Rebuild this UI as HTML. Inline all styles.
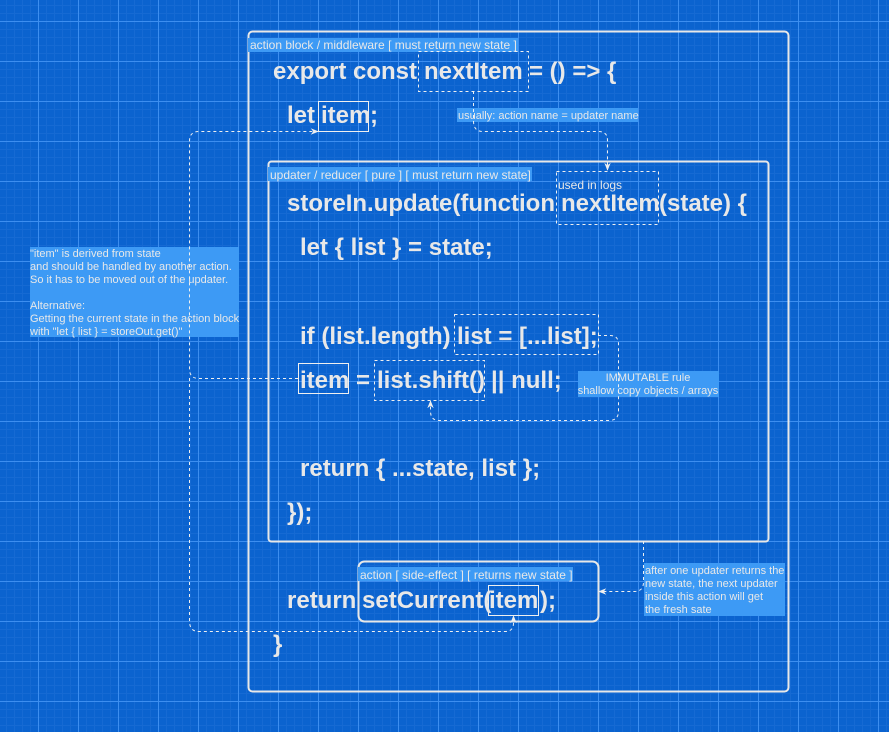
<!DOCTYPE html>
<html><head><meta charset="utf-8"><style>
html,body{margin:0;padding:0;background:#0b63cf;}
svg{display:block}
.c{font-family:"Liberation Sans",sans-serif;font-weight:bold;font-size:24px;fill:#e8e8e8}
.l{font-family:"Liberation Sans",sans-serif;font-size:12px;fill:#e8e8e8}
.lb{fill:#3d9af5}
.d{fill:none;stroke:#f0f0f0;stroke-width:1;stroke-dasharray:3 3}
.s{fill:none;stroke:#f0f0f0;stroke-width:1}
.b{fill:none;stroke:#e8e8e8;stroke-width:2}
</style></head><body>
<svg width="889" height="732" viewBox="0 0 889 732" xmlns="http://www.w3.org/2000/svg">
<defs>
<pattern id="mi" x="-2" y="-3" width="8" height="8" patternUnits="userSpaceOnUse">
<path d="M0 0.5H8M0.5 0V8" stroke="#2a78da" stroke-width="1" fill="none"/>
</pattern>
<pattern id="ma" x="-2" y="-19" width="40" height="40" patternUnits="userSpaceOnUse">
<path d="M0 0.5H40M0.5 0V40" stroke="#3d8ef0" stroke-width="1" fill="none"/>
</pattern>
<marker id="ar" viewBox="0 0 10 10" refX="9" refY="5" markerWidth="8" markerHeight="8" orient="auto"><path d="M0 1L10 5L0 9L3 5Z" fill="#f0f0f0"/></marker>
</defs>
<rect width="889" height="732" fill="#0b63cf"/>
<rect width="889" height="732" fill="url(#mi)" opacity="0.35"/>
<rect width="889" height="732" fill="url(#ma)"/>

<rect class="b" x="248.5" y="31.5" width="540" height="660" rx="4"/>
<rect class="b" x="268.5" y="161.5" width="500" height="380" rx="3"/>
<rect class="b" x="358.5" y="561.5" width="240" height="60" rx="6"/>

<rect class="lb" x="248" y="38" width="270" height="14"/>
<text class="l" x="250" y="49">action block / middleware [ must return new state ]</text>
<rect class="lb" x="268" y="167" width="264" height="14"/>
<text class="l" x="270" y="179">updater / reducer [ pure ] [ must return new state]</text>
<rect class="lb" x="457" y="108" width="181" height="14"/>
<text class="l" x="458" y="119" style="font-size:11px">usually: action name = updater name</text>
<rect class="lb" x="358" y="567" width="215" height="14"/>
<text class="l" x="360" y="579">action [ side-effect ] [ returns new state ]</text>
<rect class="lb" x="30" y="247" width="209" height="90"/>
<text class="l" style="font-size:11px"><tspan x="30" y="257">"item" is derived from state</tspan><tspan x="30" y="270">and should be handled by another action.</tspan><tspan x="30" y="283">So it has to be moved out of the updater.</tspan><tspan x="30" y="309">Alternative:</tspan><tspan x="30" y="322">Getting the current state in the action block</tspan><tspan x="30" y="335">with "let { list } = storeOut.get()"</tspan></text>
<rect class="lb" x="578" y="371" width="141" height="26"/>
<text class="l" style="font-size:11px" text-anchor="middle"><tspan x="648" y="381">IMMUTABLE rule</tspan><tspan x="648" y="394">shallow copy objects / arrays</tspan></text>
<rect class="lb" x="644" y="563" width="141" height="53"/>
<text class="l" style="font-size:11px"><tspan x="645" y="574">after one updater returns the</tspan><tspan x="645" y="587">new state, the next updater</tspan><tspan x="645" y="600">inside this action will get</tspan><tspan x="645" y="613">the fresh sate</tspan></text>

<rect class="d" x="418.5" y="51.5" width="110" height="40"/>
<rect class="d" x="556.5" y="171.5" width="102" height="53"/>
<text class="l" x="558" y="189">used in logs</text>
<rect class="d" x="454.5" y="314.5" width="144" height="40"/>
<rect class="d" x="374.5" y="360.5" width="110" height="40"/>
<rect class="s" x="318.5" y="101.5" width="50" height="30"/>
<rect class="s" x="298.5" y="363.5" width="50" height="30"/>
<rect class="s" x="488.5" y="585.5" width="50" height="30"/>

<text class="c" x="273" y="79">export const</text>
<text class="c" x="424" y="79">nextItem</text>
<text class="c" x="529" y="79">= () =&gt; {</text>
<text class="c" x="287" y="123">let</text>
<text class="c" x="321" y="123">item</text>
<text class="c" x="370" y="123">;</text>
<text class="c" x="287" y="211">storeIn.update(function</text>
<text class="c" x="561" y="211">nextItem</text>
<text class="c" x="659" y="211">(state) {</text>
<text class="c" x="300" y="255">let { list } = state;</text>
<text class="c" x="300" y="344">if (list.length)</text>
<text class="c" x="457" y="344">list = [...list];</text>
<text class="c" x="300" y="388">item</text>
<text class="c" x="356" y="388">=</text>
<text class="c" x="377" y="388">list.shift()</text>
<text class="c" x="491" y="388">|| null;</text>
<text class="c" x="300" y="476">return { ...state, list };</text>
<text class="c" x="287" y="520">});</text>
<text class="c" x="287" y="608">return</text>
<text class="c" x="362" y="608">setCurrent(</text>
<text class="c" x="489" y="608">item</text>
<text class="c" x="540" y="608">);</text>
<text class="c" x="273" y="652">}</text>

<path class="d" d="M473.5 91V121Q473.5 131.5 483 131.5H598Q607.5 131.5 607.5 140V170" marker-end="url(#ar)"/>
<path class="d" d="M298 378.5H199Q189.5 378.5 189.5 369V141Q189.5 131.5 199 131.5H318" marker-end="url(#ar)"/>
<path class="d" d="M189.5 378V621Q189.5 631.5 199 631.5H505Q513.5 631.5 513.5 623V616" marker-end="url(#ar)"/>
<path class="d" d="M598 335.5H610Q618.5 335.5 618.5 344V411Q618.5 420.5 609 420.5H439Q430.5 420.5 430.5 411V401" marker-end="url(#ar)"/>
<path class="d" d="M643.5 541V582Q643.5 591.5 634 591.5H599" marker-end="url(#ar)"/>
</svg>
</body></html>
